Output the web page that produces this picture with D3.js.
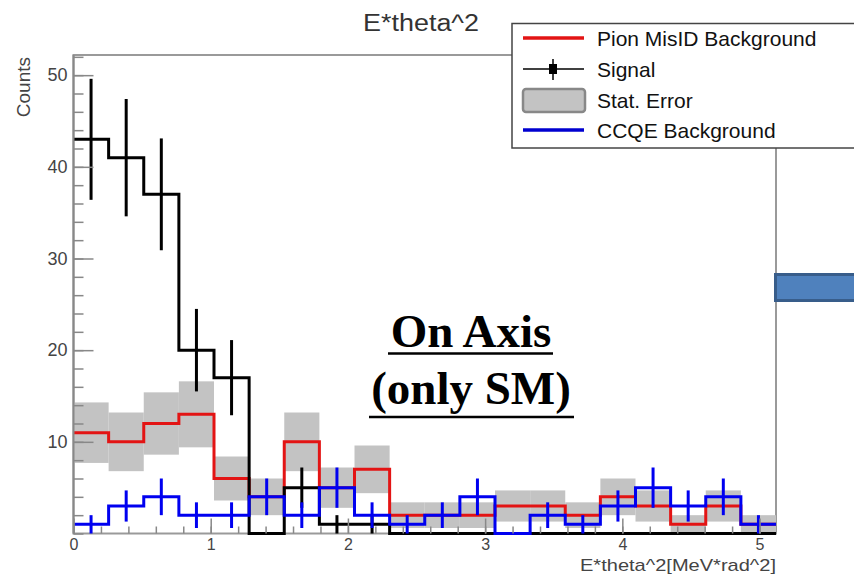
<!DOCTYPE html>
<html>
<head>
<meta charset="utf-8">
<script src="https://cdn.jsdelivr.net/npm/d3@7"></script>
<style>
body { margin: 0; background: #fff; }
svg text { font-family: "Liberation Sans", Arial, Helvetica, sans-serif; }
svg text.note { font-family: "Liberation Serif", "Times New Roman", serif; font-weight: bold; font-size: 47px; }
</style>
</head>
<body>
<div class="chart"></div>
<script>
//Histogram bins (20 bins of 0.256 from 0 to 5.12)
var binWidth = 0.256;
var signal    = [43, 41, 37, 20, 17, 0, 5, 1, 1, 0, 0, 0, 0, 0, 0, 0, 0, 0, 0, 0];
var signalErr = [6.6, 6.4, 6.1, 4.5, 4.1, 0, 2.2, 1, 1, 0, 0, 0, 0, 0, 0, 0, 0, 0, 0, 0];
var pion      = [11, 10, 12, 13, 6, 4, 10, 5, 7, 2, 2, 2, 3, 3, 2, 4, 3, 1, 3, 1];
var pionErr   = [3.3, 3.2, 3.4, 3.6, 2.4, 2, 3.2, 2.2, 2.6, 1.4, 1.4, 1.4, 1.7, 1.7, 1.4, 2, 1.7, 1, 1.7, 1];
var ccqe      = [1, 3, 4, 2, 2, 4, 2, 5, 2, 1, 2, 4, 0, 2, 1, 3, 5, 3, 4, 1];
var ccqeErr   = [1, 1.7, 2, 1.4, 1.4, 2, 1.4, 2.2, 1.4, 1, 1.4, 2, 0, 1.4, 1, 1.7, 2.2, 1.7, 2, 1];

var xMajor = [0, 1, 2, 3, 4, 5];
var yMajor = [10, 20, 30, 40, 50];
var legendItems = ["Pion MisID Background", "Signal", "Stat. Error", "CCQE Background"];

//Width and height
var w = 854;
var h = 576;

var svg = d3.select(".chart")
    .append("svg")
    .attr("width", w)
    .attr("height", h);

var xScale = d3.scaleLinear().domain([0, 5.12]).range([73.5, 776]);
var yScale = d3.scaleLinear().domain([0, 52.2]).range([533.5, 55]);

//bins as objects
function bins(vals, errs) {
    return vals.map((v, i) => ({ lo: i * binWidth, hi: (i + 1) * binWidth, v: v, e: errs[i] }));
}
var sigBins = bins(signal, signalErr);
var pionBins = bins(pion, pionErr);
var ccqeBins = bins(ccqe, ccqeErr);

//Frame
svg.append("rect")
    .attr("x", xScale(0))
    .attr("y", yScale.range()[1])
    .attr("width", xScale(5.12) - xScale(0))
    .attr("height", yScale(0) - yScale.range()[1])
    .style("fill", "none")
    .style("stroke", "#9a9a9a")
    .style("stroke-width", 2);

//Stat. error boxes
svg.selectAll(".err")
    .data(pionBins)
    .enter()
    .append("rect")
    .attr("x", d => xScale(d.lo))
    .attr("width", d => xScale(d.hi) - xScale(d.lo))
    .attr("y", d => yScale(d.v + d.e))
    .attr("height", d => yScale(Math.max(0, d.v - d.e)) - yScale(d.v + d.e))
    .style("fill", "#c3c3c3");

//Step line
var step = d3.line()
    .x(d => xScale(d[0]))
    .y(d => yScale(d[1]))
    .curve(d3.curveStepAfter);

function stepPoints(b) {
    var pts = b.map(d => [d.lo, d.v]);
    pts.push([b[b.length - 1].hi, b[b.length - 1].v]);
    return pts;
}

function drawHist(b, color, width) {
    svg.append("path")
        .attr("d", step(stepPoints(b)))
        .style("fill", "none")
        .style("stroke", color)
        .style("stroke-width", width);
}

function drawErrors(b, color) {
    svg.selectAll(null)
        .data(b.filter(d => d.e > 0))
        .enter()
        .append("line")
        .attr("x1", d => xScale((d.lo + d.hi) / 2))
        .attr("x2", d => xScale((d.lo + d.hi) / 2))
        .attr("y1", d => yScale(d.v + d.e))
        .attr("y2", d => yScale(Math.max(0, d.v - d.e)))
        .style("stroke", color)
        .style("stroke-width", 3);
}

drawHist(pionBins, "#e31414", 3);
drawHist(sigBins, "#000", 3);
drawErrors(sigBins, "#000");
drawHist(ccqeBins, "#0000f0", 3);
drawErrors(ccqeBins, "#0000f0");

//Axes (ticks inside the frame, ROOT style)
var yMinor = d3.range(0, 52.2, 2);
var xMinor = d3.range(0, 5.12, 0.2);

svg.append("g")
    .attr("transform", "translate(" + xScale(0) + ",0)")
    .call(d3.axisLeft(yScale).tickValues(yMinor).tickSize(-10).tickFormat(""))
    .call(g => g.select(".domain").remove());
svg.append("g")
    .attr("transform", "translate(" + xScale(0) + ",0)")
    .call(d3.axisLeft(yScale).tickValues(yMajor).tickSize(-20).tickPadding(6).tickFormat(d3.format("d")))
    .call(g => g.select(".domain").remove())
    .call(g => g.selectAll("text").style("font-size", "18px").style("fill", "#444")
        .style("font-family", "'Liberation Sans', Arial, sans-serif"));

svg.append("g")
    .attr("transform", "translate(0," + yScale(0) + ")")
    .call(d3.axisBottom(xScale).tickValues(xMinor).tickSize(-7).tickFormat(""))
    .call(g => g.select(".domain").remove());
svg.append("g")
    .attr("transform", "translate(0," + yScale(0) + ")")
    .call(d3.axisBottom(xScale).tickValues(xMajor).tickSize(-15).tickPadding(5).tickFormat(d3.format("d")))
    .call(g => g.select(".domain").remove())
    .call(g => g.selectAll("text").style("font-size", "16px").style("fill", "#444")
        .style("font-family", "'Liberation Sans', Arial, sans-serif"));

svg.selectAll(".tick line").style("stroke", "#888").style("stroke-width", 1.5);

//Axis lines on top
svg.append("line")
    .attr("x1", xScale(0)).attr("x2", xScale(0))
    .attr("y1", yScale.range()[1]).attr("y2", yScale(0))
    .style("stroke", "#888").style("stroke-width", 2);

//Titles
svg.append("text")
    .attr("x", 421)
    .attr("y", 31)
    .attr("text-anchor", "middle")
    .style("font-size", "23px")
    .style("fill", "#333")
    .attr("textLength", 116)
    .attr("lengthAdjust", "spacingAndGlyphs")
    .text("E*theta^2");

svg.append("text")
    .attr("transform", "rotate(-90)")
    .attr("x", -57)
    .attr("y", 30)
    .attr("text-anchor", "end")
    .style("font-size", "19px")
    .style("fill", "#444")
    .text("Counts");

svg.append("text")
    .attr("x", 776)
    .attr("y", 571)
    .attr("text-anchor", "end")
    .style("font-size", "17px")
    .style("fill", "#444")
    .attr("textLength", 196)
    .attr("lengthAdjust", "spacingAndGlyphs")
    .text("E*theta^2[MeV*rad^2]");

//Legend
var legend = svg.append("g");
legend.append("rect")
    .attr("x", 512)
    .attr("y", 23.5)
    .attr("width", 360)
    .attr("height", 124.5)
    .style("fill", "#fff")
    .style("stroke", "#444")
    .style("stroke-width", 1.5);

var rowY = [38, 69, 100, 130];
var entries = legend.selectAll(".entry")
    .data(legendItems)
    .enter()
    .append("g")
    .attr("transform", (d, i) => "translate(0," + rowY[i] + ")");

entries.append("text")
    .attr("x", 597)
    .attr("dy", "0.36em")
    .style("font-size", "21px")
    .style("fill", "#111")
    .text(d => d);

entries.each(function (d, i) {
    var g = d3.select(this);
    if (i === 0 || i === 3) {
        g.append("line").attr("x1", 523).attr("x2", 584)
            .style("stroke", i === 0 ? "#e31414" : "#0000d0").style("stroke-width", 3.5);
    } else if (i === 1) {
        g.append("line").attr("x1", 523).attr("x2", 584)
            .style("stroke", "#000").style("stroke-width", 1.5);
        g.append("line").attr("x1", 553).attr("x2", 553).attr("y1", -10).attr("y2", 11)
            .style("stroke", "#000").style("stroke-width", 1.5);
        g.append("rect").attr("x", 549).attr("y", -5).attr("width", 8).attr("height", 10)
            .style("fill", "#000");
    } else {
        g.append("rect").attr("x", 523).attr("y", -11).attr("width", 62).attr("height", 23)
            .attr("rx", 3)
            .style("fill", "#c3c3c3").style("stroke", "#888").style("stroke-width", 2.5);
    }
});

//Slide annotation
var note = svg.append("g").attr("text-anchor", "middle");
note.append("text").attr("class", "note").attr("x", 471).attr("y", 347).text("On Axis");
note.append("text").attr("class", "note").attr("x", 471).attr("y", 404).text("(only SM)");
note.append("line").attr("x1", 388).attr("x2", 553).attr("y1", 353.5).attr("y2", 353.5)
    .style("stroke", "#000").style("stroke-width", 2.5);
note.append("line").attr("x1", 369).attr("x2", 574).attr("y1", 417).attr("y2", 417)
    .style("stroke", "#000").style("stroke-width", 2.5);

//Blue arrow box at right edge
svg.append("rect")
    .attr("x", 775.5)
    .attr("y", 274.5)
    .attr("width", 90)
    .attr("height", 26)
    .style("fill", "#4f81bd")
    .style("stroke", "#385d8a")
    .style("stroke-width", 3);
</script>
</body>
</html>
